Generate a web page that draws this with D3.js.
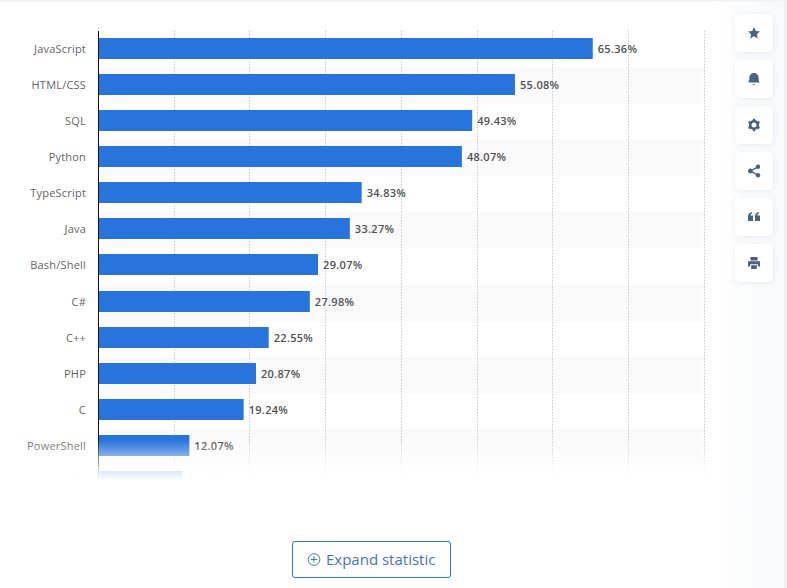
<!DOCTYPE html>
<html><head><meta charset="utf-8">
<script src="https://cdn.jsdelivr.net/npm/d3@7"></script>
<style>html,body{margin:0;padding:0;background:#fff;overflow:hidden}svg{display:block}</style>
</head><body><svg id="c" width="787" height="588"></svg>
<script>
const categories=["JavaScript","HTML/CSS","SQL","Python","TypeScript","Java","Bash/Shell","C#","C++","PHP","C","PowerShell","Go"];
const values=[65.36,55.08,49.43,48.07,34.83,33.27,29.07,27.98,22.55,20.87,19.24,12.07,11.15];
const xTicks=[10,20,30,40,50,60,70,80];
const toolIcons=["star","bell","gear","share","quote","print"];

const svg=d3.select("#c");
const defs=svg.append("defs");
const fade=defs.append("linearGradient").attr("id","fade").attr("x1",0).attr("x2",0).attr("y1",0).attr("y2",1);
[[0,0],[.39,.42],[.82,.86],[1,.97]].forEach(s=>fade.append("stop").attr("offset",s[0]).attr("stop-color","#fff").attr("stop-opacity",s[1]));
const side=defs.append("linearGradient").attr("id","side");
side.append("stop").attr("offset",0).attr("stop-color","#f3f5f8").attr("stop-opacity",0);
side.append("stop").attr("offset",1).attr("stop-color","#f3f5f8").attr("stop-opacity",1);
const sh=defs.append("filter").attr("id","sh").attr("x","-30%").attr("y","-30%").attr("width","160%").attr("height","160%");
sh.append("feDropShadow").attr("dx",0).attr("dy",1).attr("stdDeviation",2.5).attr("flood-color","#8a97ad").attr("flood-opacity",.18);

const x=d3.scaleLinear().domain([0,80]).range([98,703.6]);
const y=d3.scaleBand().domain(categories).range([30.5,499.5]).paddingInner(0).paddingOuter(0);
const barH=21;

// page frame
svg.append("rect").attr("x",0).attr("y",0).attr("width",787).attr("height",1.5).attr("fill","#f1f2f5");
svg.append("rect").attr("x",784).attr("y",0).attr("width",3).attr("height",588).attr("fill","#eef0f4");

// stripes
svg.append("g").selectAll("rect").data(categories.filter((d,i)=>i%2===1)).join("rect")
 .attr("x",x(0)).attr("width",x(80)-x(0)).attr("y",d=>Math.round(y(d)+1.5)).attr("height",36).attr("fill","#fafafa");

// grid
svg.append("g").selectAll("line").data(xTicks).join("line")
 .attr("x1",d=>Math.round(x(d))+.5).attr("x2",d=>Math.round(x(d))+.5).attr("y1",31).attr("y2",480)
 .attr("stroke","#c9c9c9").attr("stroke-width",1).attr("stroke-dasharray","1.5 1.5");

// bars
svg.append("g").selectAll("rect").data(categories).join("rect")
 .attr("x",x(0)).attr("y",d=>Math.round(y(d)+7.5)).attr("height",barH)
 .attr("width",(d,i)=>x(values[i])-x(0)).attr("fill","#2774dc");

// axis line
svg.append("line").attr("x1",98.5).attr("x2",98.5).attr("y1",31).attr("y2",480).attr("stroke","#111").attr("stroke-width",1);

const F='"Open Sans",sans-serif';
svg.append("g").selectAll("text").data(categories).join("text")
 .attr("x",86).attr("y",d=>y(d)+22.5).attr("text-anchor","end")
 .attr("font-family",F).attr("font-size",11).attr("letter-spacing",.2).attr("fill","#636363").text(d=>d);
svg.append("g").selectAll("text").data(categories).join("text")
 .attr("x",(d,i)=>x(values[i])+5).attr("y",d=>y(d)+22.5)
 .attr("font-family",F).attr("font-size",11).attr("font-weight",600).attr("letter-spacing",.3).attr("fill","#505050")
 .text((d,i)=>values[i].toFixed(2)+"%");

// bottom fade
svg.append("rect").attr("x",0).attr("y",440).attr("width",712).attr("height",39).attr("fill","url(#fade)");
svg.append("rect").attr("x",0).attr("y",479).attr("width",712).attr("height",40).attr("fill","#fff");
svg.append("rect").attr("x",712).attr("y",1.5).attr("width",72).attr("height",586.5).attr("fill","url(#side)").attr("opacity",.6);

// toolbar
const iconColor="#4a6282";
const tool=svg.append("g").selectAll("g").data(toolIcons).join("g")
 .attr("transform",(d,i)=>`translate(754,${33+i*46})`);
tool.append("rect").attr("x",-19).attr("y",-19).attr("width",38).attr("height",38).attr("rx",5).attr("fill","#fff").attr("filter","url(#sh)");
const paths={
 star:"M0,-6 L1.8,-2 L6,-1.6 L2.9,1.2 L3.8,5.5 L0,3.3 L-3.8,5.5 L-2.9,1.2 L-6,-1.6 L-1.8,-2 Z",
 bell:"M0,-6 C3,-6 4.6,-3.6 4.6,-1 C4.6,1.4 5.3,2.4 5.6,3.4 L-5.6,3.4 C-5.3,2.4 -4.6,1.4 -4.6,-1 C-4.6,-3.6 -3,-6 0,-6 Z M-1.6,5 L1.6,5 L0,6 Z",
 quote:"M-6,4 L-6,-0.5 C-6,-3 -4.5,-4.6 -2,-5 L-2,-3.6 C-3,-3.3 -3.6,-2.6 -3.6,-1.6 L-1,-1.6 L-1,4 Z M1,4 L1,-0.5 C1,-3 2.5,-4.6 5,-5 L5,-3.6 C4,-3.3 3.4,-2.6 3.4,-1.6 L6,-1.6 L6,4 Z",
 print:"M-3.6,-6 L3.6,-6 L3.6,-2.6 L-3.6,-2.6 Z M-6,-1.8 L6,-1.8 L6,3.4 L3.8,3.4 L3.8,1.2 L-3.8,1.2 L-3.8,3.4 L-6,3.4 Z M-2.8,2.2 L2.8,2.2 L2.8,6 L-2.8,6 Z"
};
tool.filter(d=>paths[d]).append("path").attr("d",d=>paths[d]).attr("fill",iconColor);
const gear=tool.filter(d=>d==="gear");
gear.append("circle").attr("r",3.8).attr("fill","none").attr("stroke",iconColor).attr("stroke-width",2.6);
gear.selectAll("rect.t").data(d3.range(6)).join("rect").attr("x",-1.2).attr("y",-6.2).attr("width",2.4).attr("height",2.4)
 .attr("fill",iconColor).attr("transform",d=>`rotate(${d*60})`);
const share=tool.filter(d=>d==="share");
share.append("path").attr("d","M4,-4.2 L-3.6,0 L4,4.2").attr("fill","none").attr("stroke",iconColor).attr("stroke-width",1.4);
share.selectAll("circle").data([[4,-4.2,2.2],[-3.6,0,2.4],[4,4.2,2.2]]).join("circle")
 .attr("cx",d=>d[0]).attr("cy",d=>d[1]).attr("r",d=>d[2]).attr("fill",iconColor);

// button
const btn=svg.append("g");
btn.append("rect").attr("x",292.5).attr("y",541.5).attr("width",158).attr("height",36).attr("rx",2.5).attr("fill","#fff").attr("stroke","#2b74d6").attr("stroke-width",1);
btn.append("circle").attr("cx",314).attr("cy",559.5).attr("r",5.8).attr("fill","none").attr("stroke","#4672c4").attr("stroke-width",1);
btn.append("path").attr("d","M310.8,559.5H317.2M314,556.3V562.7").attr("stroke","#4672c4").attr("stroke-width",1);
btn.append("text").attr("x",326).attr("y",565).attr("font-family",F).attr("font-size",15).attr("fill","#4672c4").text("Expand statistic");
</script></body></html>
